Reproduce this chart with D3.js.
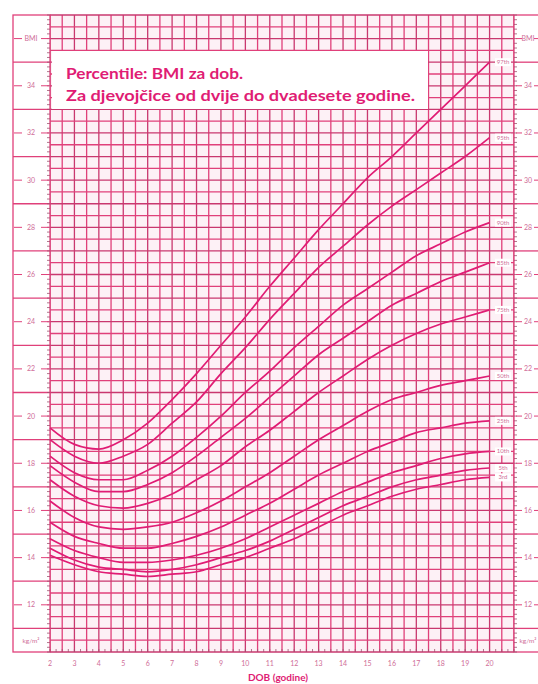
<!DOCTYPE html>
<html>
<head>
<meta charset="utf-8">
<script src="https://cdn.jsdelivr.net/npm/d3@7"></script>
<style>
  body { margin: 0; background: #fff; }
  text { font-family: Lato, "Open Sans", sans-serif; }
</style>
</head>
<body>
<svg id="chart" width="538" height="684"></svg>
<script>
// age in years
const ages = [2, 3, 4, 5, 6, 7, 8, 9, 10, 11, 12, 13, 14, 15, 16, 17, 18, 19, 20]

// BMI percentile curves, girls 2-20
const p3  = [14.1, 13.7, 13.4, 13.3, 13.2, 13.3, 13.4, 13.7, 14.0, 14.4, 14.8, 15.3, 15.8, 16.2, 16.6, 16.9, 17.1, 17.3, 17.4]
const p5  = [14.4, 13.9, 13.6, 13.5, 13.4, 13.5, 13.7, 14.0, 14.3, 14.7, 15.2, 15.7, 16.2, 16.6, 17.0, 17.3, 17.5, 17.7, 17.8]
const p10 = [14.8, 14.3, 14.0, 13.8, 13.8, 13.9, 14.1, 14.4, 14.8, 15.3, 15.8, 16.3, 16.8, 17.2, 17.6, 17.9, 18.2, 18.4, 18.5]
const p25 = [15.5, 14.9, 14.6, 14.4, 14.4, 14.6, 14.9, 15.3, 15.8, 16.3, 16.9, 17.5, 18.0, 18.5, 18.9, 19.3, 19.5, 19.7, 19.8]
const p50 = [16.4, 15.7, 15.3, 15.2, 15.3, 15.5, 15.9, 16.4, 17.0, 17.6, 18.3, 19.0, 19.6, 20.2, 20.7, 21.0, 21.3, 21.5, 21.7]
const p75 = [17.3, 16.6, 16.2, 16.1, 16.3, 16.7, 17.3, 17.9, 18.7, 19.4, 20.2, 21.0, 21.7, 22.4, 23.0, 23.5, 23.9, 24.2, 24.5]
const p85 = [17.9, 17.2, 16.8, 16.8, 17.1, 17.6, 18.3, 19.1, 19.9, 20.8, 21.7, 22.6, 23.3, 24.0, 24.7, 25.2, 25.7, 26.1, 26.5]
const p90 = [18.3, 17.6, 17.3, 17.3, 17.7, 18.3, 19.1, 20.0, 21.0, 21.9, 22.9, 23.8, 24.7, 25.4, 26.1, 26.8, 27.3, 27.8, 28.2]
const p95 = [19.0, 18.3, 18.0, 18.3, 18.8, 19.7, 20.6, 21.8, 22.9, 24.1, 25.2, 26.3, 27.2, 28.1, 28.9, 29.6, 30.3, 31.0, 31.8]
const p97 = [19.5, 18.8, 18.6, 19.0, 19.7, 20.7, 21.8, 23.0, 24.2, 25.5, 26.7, 27.9, 29.0, 30.1, 31.0, 32.0, 33.0, 34.0, 35.0]

const percentileNames = ["3rd", "5th", "10th", "25th", "50th", "75th", "85th", "90th", "95th", "97th"]
const percentileValues = [p3, p5, p10, p25, p50, p75, p85, p90, p95, p97]

const xTickLabels = d3.range(2, 21)
const yTickLabels = d3.range(12, 35, 2)

const titleLines = ["Percentile: BMI za dob.", "Za djevojčice od dvije do dvadesete godine."]
const xTitle = "DOB (godine)"

const pink = "#e0407a"
const magenta = "#e01c74"
const faint = "#cf6e98"

const svg = d3.select("#chart")

const gLeft = 50, gRight = 514, gTop = 15, gBottom = 652
const x = d3.scaleLinear().domain([2, 21]).range([gLeft, gRight])
const y = d3.scaleLinear().domain([10, 37]).range([gBottom, gTop])

// grid background
svg.append("rect")
    .attr("x", gLeft).attr("y", gTop)
    .attr("width", gRight - gLeft).attr("height", gBottom - gTop)
    .attr("fill", "#fdf1f6")

const grid = svg.append("g").attr("stroke", pink)
grid.selectAll("line.v")
    .data(d3.range(2, 21.01, 0.5))
    .join("line")
    .attr("x1", d => x(d)).attr("x2", d => x(d))
    .attr("y1", gTop).attr("y2", gBottom)
    .attr("stroke", d => d % 1 === 0 ? "#c9386f" : pink)
    .attr("stroke-width", 1.3)
grid.selectAll("line.h")
    .data(d3.range(10, 37.01, 0.5))
    .join("line")
    .attr("x1", gLeft).attr("x2", gRight)
    .attr("y1", d => y(d)).attr("y2", d => y(d))
    .attr("stroke", d => d % 1 === 0 ? "#c9386f" : pink)
    .attr("stroke-width", 1.3)

// side strips
const strips = [{x0: 13, x1: gLeft}, {x0: gRight, x1: 545}]
strips.forEach(s => {
    const g = svg.append("g")
    g.append("rect")
        .attr("x", s.x0).attr("y", gTop)
        .attr("width", s.x1 - s.x0).attr("height", gBottom - gTop)
        .attr("fill", "#fff").attr("stroke", pink).attr("stroke-width", 1.3)
    g.selectAll("line.odd")
        .data(d3.range(11, 37, 2))
        .join("line")
        .attr("x1", s.x0).attr("x2", s.x1)
        .attr("y1", d => y(d)).attr("y2", d => y(d))
        .attr("stroke", pink).attr("stroke-width", 1.3)
})

// ruler ticks along the edges
svg.append("g").selectAll("line")
    .data(d3.range(10, 37.01, 0.2))
    .join("line")
    .attr("x1", gLeft - 3).attr("x2", gLeft)
    .attr("y1", d => y(d)).attr("y2", d => y(d))
    .attr("stroke", "#a05070").attr("stroke-width", 0.8)
svg.append("g").selectAll("line")
    .data(d3.range(10, 37.01, 0.2))
    .join("line")
    .attr("x1", gRight).attr("x2", gRight + 3)
    .attr("y1", d => y(d)).attr("y2", d => y(d))
    .attr("stroke", "#a05070").attr("stroke-width", 0.8)
svg.append("g").selectAll("line")
    .data(d3.range(2, 21.01, 0.25))
    .join("line")
    .attr("x1", d => x(d)).attr("x2", d => x(d))
    .attr("y1", gBottom - 3).attr("y2", gBottom)
    .attr("stroke", "#a05070").attr("stroke-width", 0.8)

// y labels with dashes, both sides
const yLabelSpots = [{cx: 31, d0: [14, 22], d1: [41, 49]}, {cx: 528, d0: [516, 522], d1: [534, 540]}]
yLabelSpots.forEach(s => {
    const g = svg.append("g")
    const items = yTickLabels.map(v => ({v: v, t: String(v)})).concat([{v: 36, t: "BMI"}])
    const row = g.selectAll("g").data(items).join("g")
        .attr("transform", d => `translate(0,${y(d.v)})`)
    row.append("line").attr("x1", s.d0[0]).attr("x2", s.d0[1]).attr("stroke", pink).attr("stroke-width", 1)
    row.append("line").attr("x1", s.d1[0]).attr("x2", s.d1[1]).attr("stroke", pink).attr("stroke-width", 1)
    row.append("text")
        .attr("x", s.cx).attr("y", 2.5)
        .attr("text-anchor", "middle")
        .attr("font-size", 7).attr("fill", faint)
        .text(d => d.t)
    g.append("text")
        .attr("x", s.cx).attr("y", y(10.5) + 2.5)
        .attr("text-anchor", "middle")
        .attr("font-size", 6.5).attr("fill", faint)
        .text("kg/m²")
})

// title box
svg.append("rect")
    .attr("x", 52).attr("y", 51)
    .attr("width", 376).attr("height", 58)
    .attr("fill", "#fff")
svg.append("g").selectAll("text")
    .data(titleLines)
    .join("text")
    .attr("x", 66).attr("y", (d, i) => 79 + i * 22)
    .attr("font-size", 15).attr("font-weight", "bold")
    .attr("fill", magenta)
    .attr("textLength", (d, i) => i === 0 ? 177 : 349)
    .attr("lengthAdjust", "spacingAndGlyphs")
    .text(d => d)

// percentile curves
const line = d3.line()
    .x((d, i) => x(ages[i]))
    .y(d => y(d))
    .curve(d3.curveMonotoneX)

svg.append("g")
    .attr("fill", "none")
    .attr("stroke", magenta)
    .attr("stroke-width", 1.7)
    .selectAll("path")
    .data(percentileValues)
    .join("path")
    .attr("d", line)

// percentile labels at the right end
const lab = svg.append("g").selectAll("g")
    .data(percentileNames)
    .join("g")
    .attr("transform", (d, i) => `translate(${x(20.55)},${y(percentileValues[i][ages.length - 1])})`)
lab.append("rect")
    .attr("x", -8).attr("y", -4)
    .attr("width", 16).attr("height", 8)
    .attr("fill", "#fff")
lab.append("text")
    .attr("y", 2)
    .attr("text-anchor", "middle")
    .attr("font-size", 6).attr("fill", faint)
    .text(d => d)

// x tick labels
svg.append("g").selectAll("text")
    .data(xTickLabels)
    .join("text")
    .attr("x", d => x(d)).attr("y", 666)
    .attr("text-anchor", "middle")
    .attr("font-size", 7).attr("fill", faint)
    .text(d => d)

svg.append("text")
    .attr("x", 278).attr("y", 681)
    .attr("text-anchor", "middle")
    .attr("font-size", 10).attr("font-weight", "bold")
    .attr("fill", magenta)
    .text(xTitle)
</script>
</body>
</html>
